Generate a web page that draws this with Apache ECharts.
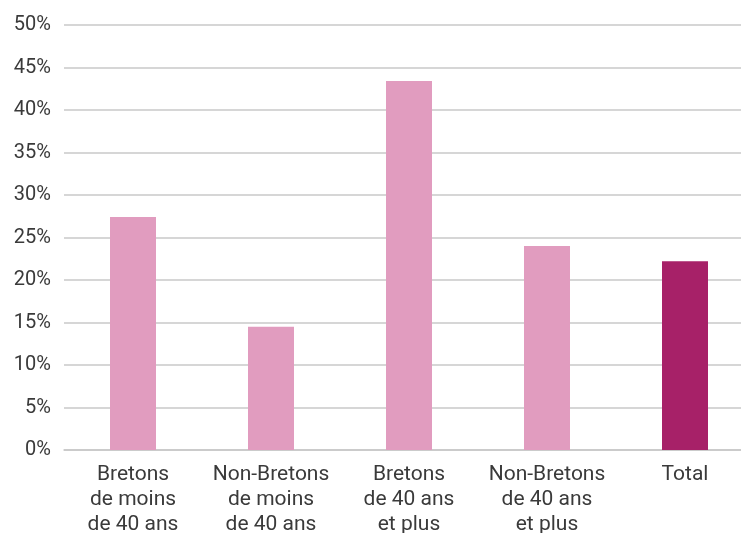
<!DOCTYPE html>
<html><head><meta charset="utf-8">
<script src="https://cdn.jsdelivr.net/npm/echarts@6/dist/echarts.min.js"></script>
<style>html,body{margin:0;padding:0;background:#fff}#c{width:741px;height:533px}</style>
</head><body><div id="c"></div>
<script>
const categories = ["Bretons\nde moins\nde 40 ans", "Non-Bretons\nde moins\nde 40 ans", "Bretons\nde 40 ans\net plus", "Non-Bretons\nde 40 ans\net plus", "Total"];
const values = [27.4, 14.5, 43.4, 24.0, 22.2];
const highlightIndex = 4;
const yTicks = [0, 5, 10, 15, 20, 25, 30, 35, 40, 45, 50];

const chart = echarts.init(document.getElementById('c'));
chart.setOption({
  animation: false,
  grid: { left: 64, top: 25, width: 690, height: 425, containLabel: false, outerBoundsMode: 'none' },
  xAxis: {
    type: 'category', data: categories,
    axisLine: { show: true, lineStyle: { color: '#c8c8c8', width: 1.5 } },
    axisTick: { show: false },
    axisLabel: { color: '#3a3a3a', fontFamily: 'Roboto', fontSize: 21, lineHeight: 25, margin: 12, interval: 0 }
  },
  yAxis: {
    type: 'value', min: yTicks[0], max: yTicks[yTicks.length - 1], interval: 5,
    axisLine: { show: false }, axisTick: { show: false },
    axisLabel: { color: '#3a3a3a', fontFamily: 'Roboto', fontSize: 20, margin: 13, formatter: '{value}%' },
    splitLine: { lineStyle: { color: '#c8c8c8', width: 1.5 } }
  },
  series: [{
    type: 'bar', barWidth: 46,
    data: values.map((v, i) => ({ value: v, itemStyle: { color: i === highlightIndex ? '#a72168' : '#e19cbf' } }))
  }]
});
</script></body></html>
